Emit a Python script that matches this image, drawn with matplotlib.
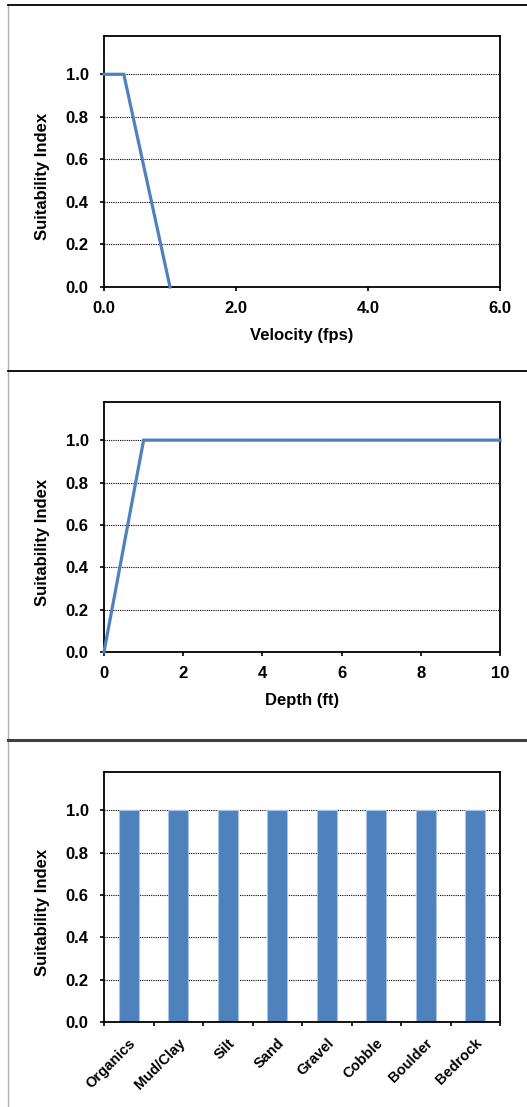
import matplotlib
matplotlib.use("Agg")
import matplotlib.pyplot as plt
from matplotlib.lines import Line2D

plt.rcParams['font.family'] = ['Liberation Sans', 'DejaVu Sans']
plt.rcParams['font.weight'] = 'bold'

# Data
velocity_x = [0.0, 0.3, 1.0]
velocity_si = [1.0, 1.0, 0.0]
depth_x = [0.0, 1.0, 10.0]
depth_si = [0.0, 1.0, 1.0]
substrate_cats = ["Organics", "Mud/Clay", "Silt", "Sand", "Gravel", "Cobble", "Boulder", "Bedrock"]
substrate_si = [1.0, 1.0, 1.0, 1.0, 1.0, 1.0, 1.0, 1.0]
y_ticks = [0.0, 0.2, 0.4, 0.6, 0.8, 1.0]

BLUE = "#4F81BD"
W, H = 527, 1107
fig = plt.figure(figsize=(W / 100, H / 100), dpi=100)

FS = 12


def ax_rect(top, bottom, left=104, right=500):
    return [left / W, 1 - bottom / H, (right - left) / W, (bottom - top) / H]


def style(ax):
    ax.set_ylim(0, 1.18)
    ax.set_yticks(y_ticks)
    ax.set_yticklabels([f"{v:.1f}" for v in y_ticks])
    for v in y_ticks[1:]:
        ax.axhline(v, color="black", lw=0.8, ls=(0, (1, 1)), zorder=0)
    for s in ax.spines.values():
        s.set_linewidth(1.3)
        s.set_color("black")
    ax.tick_params(axis="both", direction="out", length=3, width=1.2,
                   labelsize=FS)
    ax.tick_params(axis="y", pad=8)
    for lab in ax.get_xticklabels() + ax.get_yticklabels():
        lab.set_fontweight("bold")
    ax.set_ylabel("Suitability Index", fontsize=FS, fontweight="bold")
    ax.yaxis.set_label_coords(-0.136, 0.44)


# Panel 1: velocity
ax1 = fig.add_axes(ax_rect(36, 287))
ax1.plot(velocity_x, velocity_si, color=BLUE, lw=2.3, solid_joinstyle="miter", clip_on=False, zorder=3)
ax1.set_xlim(0, 6)
ax1.set_xticks([0, 2, 4, 6])
ax1.set_xticklabels(["0.0", "2.0", "4.0", "6.0"])
style(ax1)
ax1.tick_params(axis="x", pad=7)
ax1.set_xlabel("Velocity (fps)", fontsize=FS, fontweight="bold", labelpad=9)

# Panel 2: depth
ax2 = fig.add_axes(ax_rect(402, 652))
ax2.plot(depth_x, depth_si, color=BLUE, lw=2.3, solid_joinstyle="miter", clip_on=False, zorder=3)
ax2.set_xlim(0, 10)
ax2.set_xticks([0, 2, 4, 6, 8, 10])
ax2.set_xticklabels(["0", "2", "4", "6", "8", "10"])
style(ax2)
ax2.tick_params(axis="x", pad=7)
ax2.set_xlabel("Depth (ft)", fontsize=FS, fontweight="bold", labelpad=9)

# Panel 3: substrate
ax3 = fig.add_axes(ax_rect(772, 1022))
xs = list(range(len(substrate_cats)))
ax3.bar(xs, substrate_si, width=0.40, color=BLUE, edgecolor="#A9C4E4", linewidth=0.8, zorder=2)
ax3.set_xlim(-0.5, len(substrate_cats) - 0.5)
style(ax3)
ax3.set_xticks(xs)
ax3.set_xticklabels(substrate_cats, rotation=45, ha="right", rotation_mode="anchor",
                    fontsize=10.5, fontweight="bold")
ax3.tick_params(axis="x", which="major", length=0, pad=10)
ax3.set_xticks([i - 0.5 for i in range(len(substrate_cats) + 1)], minor=True)
ax3.tick_params(axis="x", which="minor", length=3, width=1.2, direction="out")

# Panel frame lines
fig.add_artist(Line2D([8 / W, 8 / W], [0, 1 - 5 / H], color="#B0B0B0", lw=1.0))
fig.add_artist(Line2D([8 / W, 1], [1 - 5 / H, 1 - 5 / H], color="black", lw=1.3))
fig.add_artist(Line2D([8 / W, 1], [1 - 371 / H, 1 - 371 / H], color="black", lw=1.3))
fig.add_artist(Line2D([8 / W, 1], [1 - 740 / H, 1 - 740 / H], color="#404040", lw=2.2))

fig.savefig("out.png", dpi=100)
